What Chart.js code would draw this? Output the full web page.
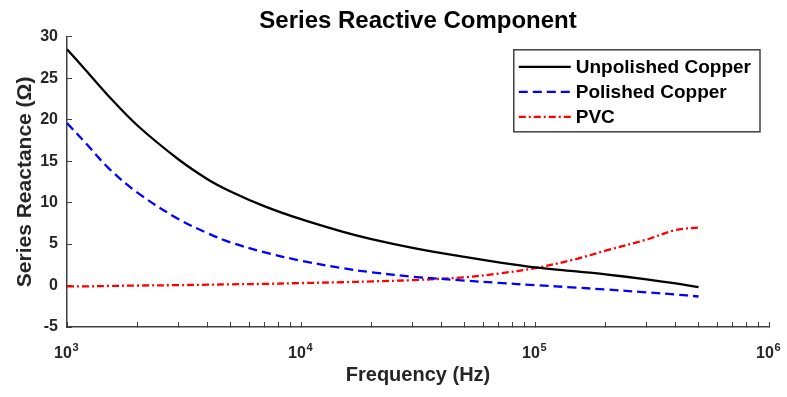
<!DOCTYPE html>
<html>
<head>
<meta charset="utf-8">
<script src="https://cdn.jsdelivr.net/npm/chart.js@4/dist/chart.umd.min.js"></script>
<style>
  html, body { margin: 0; padding: 0; background: #fff; }
  #wrap { width: 787px; height: 397px; }
</style>
</head>
<body>
<div id="wrap"><canvas id="chart" width="787" height="397"></canvas></div>
<script>
    // values
    const freqHz = [1000, 1200, 1500, 2000, 3000, 4000, 5000, 7000, 10000, 15000, 20000, 30000, 50000, 70000, 100000, 150000, 200000, 300000, 400000, 500000];
    const unpolished = [28.5, 26.0, 22.9, 19.3, 15.2, 12.8, 11.35, 9.55, 8.0, 6.5, 5.6, 4.55, 3.45, 2.8, 2.2, 1.7, 1.35, 0.75, 0.25, -0.2];
    const polished = [19.6, 17.2, 14.2, 11.2, 8.0, 6.3, 5.2, 4.0, 3.0, 2.1, 1.6, 1.07, 0.6, 0.32, 0.05, -0.25, -0.47, -0.82, -1.08, -1.32];
    const pvc = [-0.1, -0.1, -0.05, 0.0, 0.05, 0.1, 0.15, 0.2, 0.3, 0.4, 0.5, 0.65, 1.0, 1.45, 2.1, 3.2, 4.2, 5.55, 6.7, 7.0];
    const seriesNames = ['Unpolished Copper', 'Polished Copper', 'PVC'];
    const xDecades = [3, 4, 5, 6];
    const yTicks = [-5, 0, 5, 10, 15, 20, 25, 30];

    const axisColor = '#404040';
    const textColor = '#262626';
    const fontFamily = '"Liberation Sans", Arial, sans-serif';
    const xTickFont = 16, xTickPad = 22, xTickLen = -5, xLabelShift = -4;

    const pts = vals => freqHz.map((f, i) => ({ x: f, y: vals[i] }));
    const isDecade = v => Math.abs(Math.pow(10, Math.round(Math.log10(v))) - v) < 1e-6;

    // exponent of the 10^n labels on the frequency axis
    const exponents = {
      id: 'exponents',
      afterDraw(chart) {
        const sx = chart.scales.x;
        const ctx = chart.ctx;
        ctx.save();
        ctx.font = `bold ${xTickFont}px ${fontFamily}`;
        const baseW = ctx.measureText('10').width;
        const midY = sx.top + xTickLen + xTickPad + xTickFont * 1.2 / 2;
        ctx.font = `bold 11px ${fontFamily}`;
        ctx.fillStyle = textColor;
        ctx.textAlign = 'left';
        ctx.textBaseline = 'middle';
        xDecades.forEach(p => {
          const px = sx.getPixelForValue(Math.pow(10, p)) + xLabelShift;
          ctx.fillText(String(p), px + baseW / 2 + 0.5, midY - 6);
        });
        ctx.restore();
      }
    };

    const legendBox = {
      id: 'legendBox',
      afterDraw(chart) {
        const ctx = chart.ctx;
        const area = chart.chartArea;
        const sets = chart.data.datasets;
        ctx.save();
        ctx.font = `bold 19px ${fontFamily}`;
        const textW = Math.max(...sets.map(d => ctx.measureText(d.label).width));
        const lineLen = 52, padL = 5, gap = 5, padR = 9, rowH = 25;
        const w = padL + lineLen + gap + textW + padR;
        const h = 82;
        const right = area.right - 9;
        const left = right - w;
        const top = area.top + 13;
        ctx.fillStyle = '#fff';
        ctx.fillRect(left, top, w, h);
        ctx.strokeStyle = axisColor;
        ctx.lineWidth = 1.5;
        ctx.strokeRect(left, top, w, h);
        sets.forEach((d, i) => {
          const cy = top + 17 + i * rowH;
          ctx.beginPath();
          ctx.setLineDash(d.borderDash || []);
          ctx.strokeStyle = d.borderColor;
          ctx.lineWidth = d.borderWidth;
          ctx.moveTo(left + padL, cy);
          ctx.lineTo(left + padL + lineLen, cy);
          ctx.stroke();
          ctx.setLineDash([]);
          ctx.fillStyle = '#000';
          ctx.textAlign = 'left';
          ctx.textBaseline = 'middle';
          ctx.fillText(d.label, left + padL + lineLen + gap, cy + 1);
        });
        ctx.restore();
      }
    };

    new Chart(document.getElementById('chart'), {
      type: 'line',
      data: {
        datasets: [
          { label: seriesNames[0], data: pts(unpolished), borderColor: '#000000', borderWidth: 2.3, pointRadius: 0, tension: 0.35 },
          { label: seriesNames[1], data: pts(polished), borderColor: '#0000ff', borderWidth: 2.3, borderDash: [9, 5], pointRadius: 0, tension: 0.35 },
          { label: seriesNames[2], data: pts(pvc), borderColor: '#ff0000', borderWidth: 2.3, borderDash: [7, 3, 2, 3], pointRadius: 0, tension: 0.35 }
        ]
      },
      options: {
        responsive: false,
        animation: false,
        layout: { padding: { left: 0, right: 18, top: 0, bottom: 0 } },
        plugins: {
          legend: { display: false },
          tooltip: { enabled: false },
          title: {
            display: true,
            fullSize: false,
            text: 'Series Reactive Component',
            color: '#000',
            font: { family: fontFamily, size: 24, weight: 'bold' },
            padding: { top: 7, bottom: 1 }
          }
        },
        scales: {
          x: {
            type: 'logarithmic',
            min: 1000,
            max: 1000000,
            afterBuildTicks: scale => {
              const ticks = [];
              xDecades.forEach(p => {
                const base = Math.pow(10, p);
                if (p === xDecades[xDecades.length - 1]) { ticks.push({ value: base }); return; }
                for (let m = 1; m <= 9; m++) ticks.push({ value: m * base });
              });
              scale.ticks = ticks;
            },
            afterFit: scale => {
              scale.height = 70;
              // the tick padding here only moves labels down; keep it out of the side margins
              scale.paddingLeft = 0;
              scale.paddingRight = 10;
            },
            ticks: {
              autoSkip: false,
              maxRotation: 0,
              padding: xTickPad,
              labelOffset: xLabelShift,
              color: textColor,
              font: { family: fontFamily, size: xTickFont, weight: 'bold' },
              callback: v => isDecade(v) ? '10' : ''
            },
            grid: { drawOnChartArea: false, drawTicks: true, tickLength: xTickLen, color: axisColor, lineWidth: 1 },
            border: { display: true, color: axisColor, width: 1.5 },
            title: {
              display: true,
              text: 'Frequency (Hz)',
              color: textColor,
              font: { family: fontFamily, size: 20, weight: 'bold' },
              padding: { top: 0, bottom: 10 }
            }
          },
          y: {
            min: -5,
            max: 30,
            afterBuildTicks: scale => { scale.ticks = yTicks.map(v => ({ value: v })); },
            afterFit: scale => { scale.width = 67; },
            ticks: {
              padding: 14,
              color: textColor,
              font: { family: fontFamily, size: 16, weight: 'bold' }
            },
            grid: { drawOnChartArea: false, drawTicks: true, tickLength: -5, color: axisColor, lineWidth: 1 },
            border: { display: true, color: axisColor, width: 1.5 },
            title: {
              display: true,
              text: 'Series Reactance (\u03A9)',
              color: textColor,
              font: { family: fontFamily, size: 21, weight: 'bold' },
              padding: { top: 13, bottom: 0 }
            }
          }
        }
      },
      plugins: [legendBox, exponents]
    });
</script>
</body>
</html>
